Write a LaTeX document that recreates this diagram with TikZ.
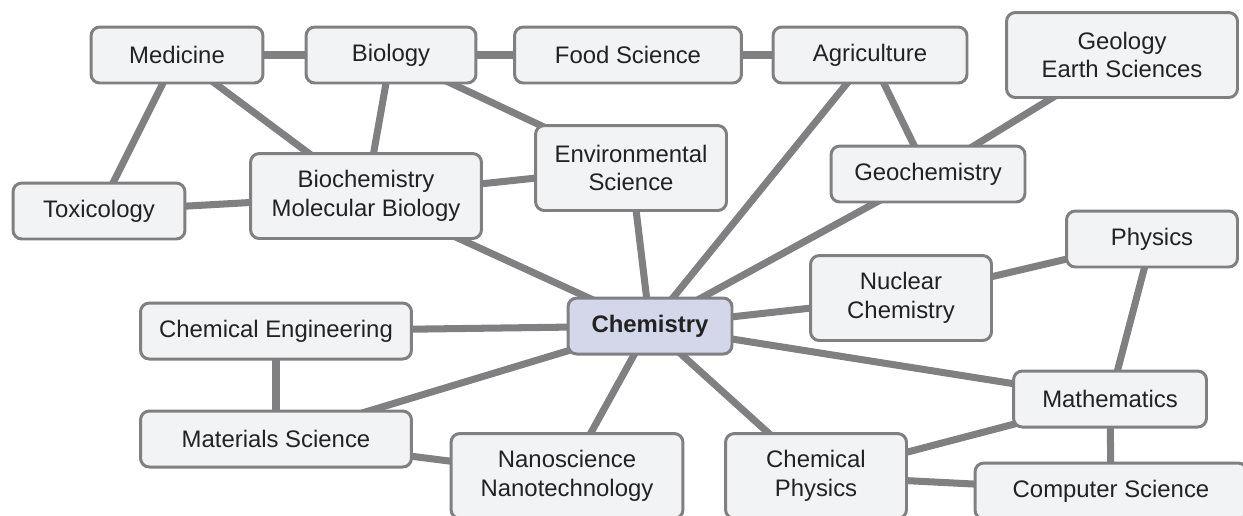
\documentclass[tikz,border=0pt]{standalone}
\usepackage{fontspec}
\setmainfont{Liberation Sans}
\usetikzlibrary{backgrounds}
\definecolor{edgegray}{RGB}{128,128,130}
\definecolor{boxfill}{RGB}{242,243,245}
\definecolor{corefill}{RGB}{212,214,234}
\definecolor{txt}{RGB}{34,34,34}
\begin{document}
\begin{tikzpicture}[x=0.02cm, y=-0.02cm,
  every node/.style={draw=edgegray, line width=1.7pt, rounded corners=5pt, fill=boxfill,
    text=txt, align=center, inner sep=0pt, minimum height=1.12cm,
    font=\fontsize{13.6}{16.4}\selectfont},
  twoline/.style={minimum height=1.7cm},
  link/.style={draw=edgegray, line width=4pt}]
\useasboundingbox (0,0) rectangle (1243,515);
\node[minimum width=3.44cm] (med) at (177,55) {Medicine};
\node[minimum width=3.40cm] (bio) at (391,55) {Biology};
\node[minimum width=4.54cm] (food) at (628,55) {Food Science};
\node[minimum width=3.88cm] (agri) at (870,55) {Agriculture};
\node[minimum width=4.62cm, twoline] (geo) at (1122,55) {Geology\\Earth Sciences};
\node[minimum width=3.82cm, twoline] (env) at (631,168) {Environmental\\Science};
\node[minimum width=3.88cm] (geochem) at (928,174) {Geochemistry};
\node[minimum width=3.44cm] (tox) at (99,211) {Toxicology};
\node[minimum width=4.62cm, twoline] (biochem) at (366,196) {Biochemistry\\Molecular Biology};
\node[minimum width=3.42cm] (phys) at (1152,239) {Physics};
\node[minimum width=3.62cm, twoline] (nuc) at (901,298) {Nuclear\\Chemistry};
\node[minimum width=3.28cm, fill=corefill, font=\fontsize{13.6}{16.4}\selectfont\bfseries] (chem) at (650,326) {Chemistry};
\node[minimum width=5.42cm] (chemeng) at (276,331) {Chemical Engineering};
\node[minimum width=3.86cm] (math) at (1110,399) {Mathematics};
\node[minimum width=5.42cm] (mat) at (276,439) {Materials Science};
\node[minimum width=4.64cm, twoline] (nano) at (567,476) {Nanoscience\\Nanotechnology};
\node[minimum width=3.62cm, twoline] (chemphys) at (816,476) {Chemical\\Physics};
\node[minimum width=5.44cm] (comp) at (1111,491) {Computer Science};
\begin{pgfonlayer}{background}
\draw[link] (med.center) -- (bio.center);
\draw[link] (bio.center) -- (food.center);
\draw[link] (food.center) -- (agri.center);
\draw[link] (med.center) -- (tox.center);
\draw[link] (med.center) -- (biochem.center);
\draw[link] (bio.center) -- (biochem.center);
\draw[link] (bio.center) -- (env.center);
\draw[link] (tox.center) -- (biochem.center);
\draw[link] (biochem.center) -- (env.center);
\draw[link] (biochem.center) -- (chem.center);
\draw[link] (env.center) -- (chem.center);
\draw[link] (agri.center) -- (chem.center);
\draw[link] (agri.center) -- (geochem.center);
\draw[link] (geo.center) -- (geochem.center);
\draw[link] (geochem.center) -- (chem.center);
\draw[link] (nuc.center) -- (chem.center);
\draw[link] (nuc.center) -- (phys.center);
\draw[link] (phys.center) -- (math.center);
\draw[link] (chem.center) -- (math.center);
\draw[link] (chem.center) -- (chemeng.center);
\draw[link] (chemeng.center) -- (mat.center);
\draw[link] (chem.center) -- (mat.center);
\draw[link] (mat.center) -- (nano.center);
\draw[link] (chem.center) -- (nano.center);
\draw[link] (chem.center) -- (chemphys.center);
\draw[link] (chemphys.center) -- (math.center);
\draw[link] (chemphys.center) -- (comp.center);
\draw[link] (math.center) -- (comp.center);
\end{pgfonlayer}
\end{tikzpicture}
\end{document}
